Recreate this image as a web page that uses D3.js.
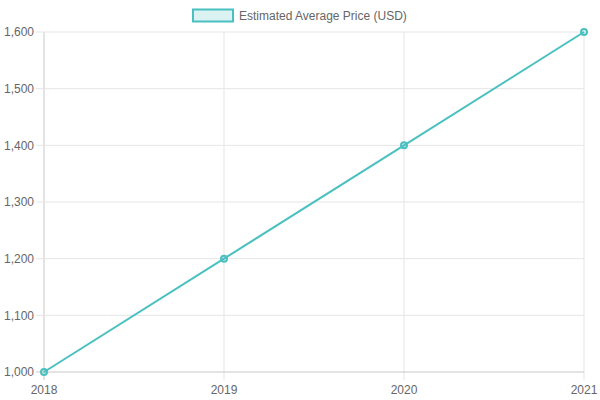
<!DOCTYPE html>
<html>
<head>
<meta charset="utf-8">
<script src="https://cdn.jsdelivr.net/npm/d3@7"></script>
<style>
  body { margin: 0; background: #fff; }
  text { font-family: "Liberation Sans", Arial, sans-serif; }
</style>
</head>
<body>
<div id="chart"></div>
<script>
const years = ["2018", "2019", "2020", "2021"];
const prices = [1000, 1200, 1400, 1600];
const yTicks = [1000, 1100, 1200, 1300, 1400, 1500, 1600];
const seriesName = "Estimated Average Price (USD)";

const width = 600, height = 400;
const margin = { top: 32, right: 16, bottom: 28, left: 44 };
const color = "rgb(75,192,192)";

const svg = d3.select("#chart").append("svg")
  .attr("width", width).attr("height", height);

const x = d3.scalePoint().domain(years).range([margin.left, width - margin.right]);
const y = d3.scaleLinear().domain([1000, 1600]).range([height - margin.bottom, margin.top]);

// grid lines
const grid = svg.append("g");
grid.selectAll(".vgrid").data(years).enter().append("line")
  .attr("x1", d => x(d)).attr("x2", d => x(d))
  .attr("y1", margin.top).attr("y2", height - margin.bottom + 8)
  .attr("stroke", d => d === years[0] ? "#c8c8c8" : "#e5e5e5").attr("stroke-width", 1);
grid.selectAll(".hgrid").data(yTicks).enter().append("line")
  .attr("x1", margin.left - 8).attr("x2", width - margin.right)
  .attr("y1", d => y(d)).attr("y2", d => y(d))
  .attr("stroke", d => d === 1000 ? "#c8c8c8" : "#e5e5e5").attr("stroke-width", 1);

// tick labels
svg.append("g").selectAll("text").data(yTicks).enter().append("text")
  .attr("x", margin.left - 10).attr("y", d => y(d)).attr("dy", "0.35em")
  .attr("text-anchor", "end").attr("font-size", 12).attr("fill", "#666")
  .text(d => d3.format(",")(d));
svg.append("g").selectAll("text").data(years).enter().append("text")
  .attr("x", d => x(d)).attr("y", height - margin.bottom + 22)
  .attr("text-anchor", "middle").attr("font-size", 12).attr("fill", "#666")
  .text(d => d);

// line
const line = d3.line().x((d, i) => x(years[i])).y(d => y(d));
svg.append("path").datum(prices)
  .attr("d", line).attr("fill", "none")
  .attr("stroke", color).attr("stroke-width", 2);

svg.append("g").selectAll("circle").data(prices).enter().append("circle")
  .attr("cx", (d, i) => x(years[i])).attr("cy", d => y(d)).attr("r", 3)
  .attr("fill", "rgba(75,192,192,0.2)").attr("stroke", color).attr("stroke-width", 2);

// legend
const legend = svg.append("g");
legend.append("rect").attr("x", 193).attr("y", 9.5).attr("width", 40).attr("height", 12)
  .attr("fill", "rgba(75,192,192,0.2)").attr("stroke", color).attr("stroke-width", 2);
legend.append("text").attr("x", 239).attr("y", 15.5).attr("dy", "0.35em")
  .attr("font-size", 12).attr("fill", "#666").text(seriesName);
</script>
</body>
</html>
